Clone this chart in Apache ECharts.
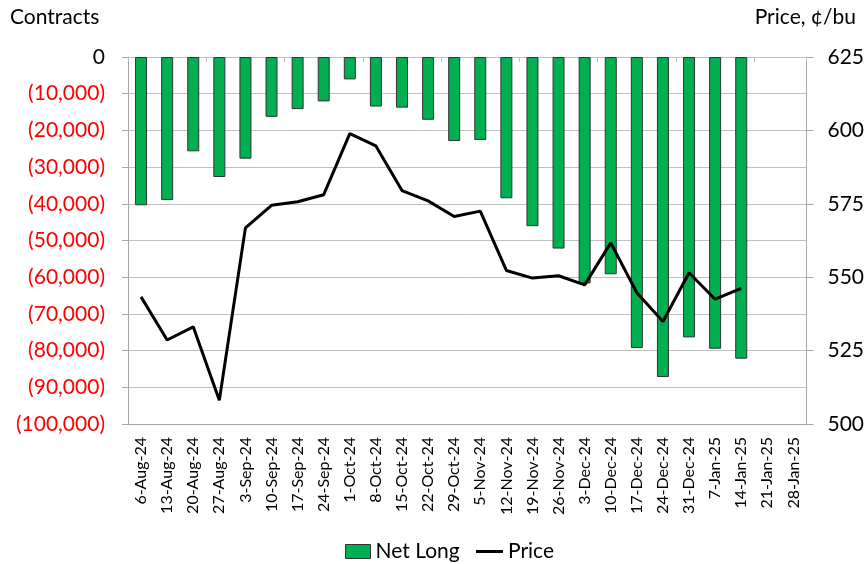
<!DOCTYPE html>
<html><head><meta charset="utf-8">
<script src="https://cdn.jsdelivr.net/npm/echarts@6/dist/echarts.min.js"></script>
<style>html,body{margin:0;padding:0;background:#fff}#c{width:867px;height:564px}</style>
</head><body><div id="c"></div>
<script>
var categories = ['6-Aug-24','13-Aug-24','20-Aug-24','27-Aug-24','3-Sep-24','10-Sep-24','17-Sep-24','24-Sep-24','1-Oct-24','8-Oct-24','15-Oct-24','22-Oct-24','29-Oct-24','5-Nov-24','12-Nov-24','19-Nov-24','26-Nov-24','3-Dec-24','10-Dec-24','17-Dec-24','24-Dec-24','31-Dec-24','7-Jan-25','14-Jan-25','21-Jan-25','28-Jan-25'];
var netLong = [-40400,-39000,-25700,-32700,-27700,-16300,-14200,-12100,-6100,-13500,-13800,-17100,-22900,-22600,-38500,-46100,-52200,-61700,-59200,-79300,-87200,-76400,-79500,-82200,null,null];
var price = [543.3,528.6,533.1,508.1,566.8,574.5,575.7,578.1,598.9,594.7,579.5,576.0,570.7,572.5,552.3,549.7,550.5,547.4,561.7,544.7,534.9,551.5,542.5,546.2,null,null];
var leftTitle = 'Contracts';
var rightTitle = 'Price, ¢/bu';

var FONT = 'Lato';
var chart = echarts.init(document.getElementById('c'));
function fmt(v){ var a=Math.abs(v); return a.toString().replace(/\B(?=(\d{3})+(?!\d))/g, ','); }
chart.setOption({
  animation:false,
  textStyle:{fontFamily:FONT},
  grid:{left:128,right:59,top:57,bottom:140,containLabel:false},
  graphic:[
    {type:'text',left:10,top:7,style:{text:leftTitle,font:'21px '+FONT,fill:'#000'}},
    {type:'text',right:11,top:7,style:{text:rightTitle,font:'21px '+FONT,fill:'#000'}}
  ],
  legend:[
    {bottom:-3,left:340,itemWidth:25,itemHeight:14,itemGap:10,
     textStyle:{fontSize:21,color:'#000',fontFamily:FONT},
     data:[{name:'Net Long',icon:'rect',itemStyle:{color:'#00B050',borderColor:'#333',borderWidth:1}}]},
    {bottom:-3,left:471,itemWidth:27,itemHeight:3,itemGap:10,
     textStyle:{fontSize:21,color:'#000',fontFamily:FONT},
     data:[{name:'Price',icon:'rect',itemStyle:{color:'#000',borderWidth:0}}]}
  ],
  xAxis:[
    {type:'category',data:categories,position:'bottom',boundaryGap:true,
     axisLine:{onZero:false,lineStyle:{color:'#a6a6a6',width:1}},axisTick:{show:false},
     axisLabel:{rotate:90,interval:0,fontSize:16,color:'#000',margin:13,fontFamily:FONT}},
    {type:'category',data:categories,position:'top',boundaryGap:true,
     axisLine:{show:false},axisTick:{show:true,inside:true,length:5,lineStyle:{color:'#bfbfbf'}},
     axisLabel:{show:false}}
  ],
  yAxis:[
    {type:'value',min:-100000,max:0,interval:10000,position:'left',
     axisLine:{show:true,lineStyle:{color:'#a6a6a6'}},axisTick:{show:true,length:6,lineStyle:{color:'#a6a6a6'}},
     splitLine:{lineStyle:{color:'#bfbfbf',width:1}},
     axisLabel:{margin:23,fontSize:21,fontFamily:FONT,
       formatter:function(v){return v===0?'{b|0}':'{r|('+fmt(v)+')}';},
       rich:{b:{color:'#000',fontSize:21,fontFamily:FONT},r:{color:'#ff0000',fontSize:21,fontFamily:FONT}}}},
    {type:'value',min:500,max:625,interval:25,position:'right',
     axisLine:{show:true,lineStyle:{color:'#a6a6a6'}},axisTick:{show:true,length:7,lineStyle:{color:'#a6a6a6'}},
     splitLine:{show:false},
     axisLabel:{margin:21,fontSize:21,color:'#000',fontFamily:FONT}}
  ],
  series:[
    {name:'Net Long',type:'bar',data:netLong,xAxisIndex:0,yAxisIndex:0,barWidth:12,
     itemStyle:{color:'#00B050',borderColor:'#333',borderWidth:1}},
    {name:'Price',type:'line',data:price,xAxisIndex:0,yAxisIndex:1,symbol:'none',
     lineStyle:{color:'#000',width:3},itemStyle:{color:'#000'}}
  ]
});
</script></body></html>
